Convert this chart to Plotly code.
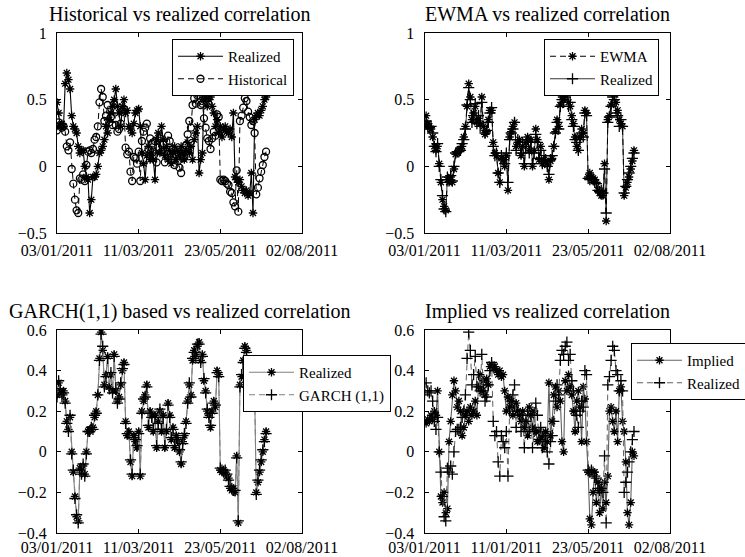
import plotly.graph_objects as go

# ---------------- data ----------------
x_ticks = [0, 50, 100, 150]
tick_labels_a = ["03/01/2011", "11/03/2011", "23/05/2011", "02/08/2011"]
tick_labels_b = ["03/01/2011", "11/01/2011", "23/05/2011", "02/08/2011"]

realized = [0.28,0.34,0.30,0.29,0.30,0.25,0.15,0.11,0.17,0.00,
            -0.10,-0.22,-0.32,-0.34,-0.08,-0.10,-0.07,-0.11,0.00,0.10,
            0.11,0.11,0.12,0.17,0.20,0.28,0.46,0.59,0.50,0.33,
            0.38,0.47,0.32,0.38,0.30,0.48,0.30,0.25,0.27,0.33,
            0.40,0.44,0.15,0.08,0.10,-0.05,-0.12,0.08,0.05,0.02,
            0.10,-0.12,0.20,0.25,0.28,0.33,0.12,0.20,0.18,0.10,
            0.18,0.02,0.15,0.20,0.10,0.18,0.02,0.10,0.24,0.18,
            0.06,0.12,0.02,0.08,0.05,0.00,-0.06,0.05,0.08,0.15,
            0.25,0.33,0.28,0.45,0.50,0.48,0.52,0.54,0.45,0.48,
            0.35,0.30,0.20,0.18,0.12,0.20,0.25,0.22,0.40,0.38,
            -0.09,-0.10,-0.09,-0.10,-0.12,-0.13,-0.18,-0.19,-0.18,-0.20,
            -0.02,-0.35,0.33,0.37,0.45,0.52,0.50,0.40,0.38,0.30,
            0.35,0.30,-0.20,-0.15,-0.10,-0.05,0.00,0.06,0.10]

realized_s1 = [0.48,0.40,0.30,0.32,0.30,0.62,0.70,0.65,0.58,0.38,
               0.30,0.28,0.25,0.15,0.10,0.12,0.12,0.00,-0.08,-0.10,
               -0.35,-0.25,-0.08,-0.08,-0.06,0.00,0.10,0.12,0.15,0.20,
               0.30,0.25,0.35,0.40,0.45,0.50,0.58,0.45,0.40,0.30,
               0.45,0.50,0.40,0.42,0.30,0.28,0.25,0.32,0.40,0.42,
               0.43,0.30,0.10,0.02,-0.10,0.08,0.15,0.05,0.10,0.05,
               -0.10,0.20,0.25,0.10,0.30,0.20,0.08,0.15,0.05,0.12,
               0.02,0.10,0.15,0.05,0.12,0.08,0.15,0.10,0.05,0.12,
               0.18,0.10,0.15,0.05,0.20,0.25,0.30,-0.05,0.05,0.10,
               0.50,0.52,0.45,0.50,0.52,0.45,0.40,0.30,0.35,0.25,
               0.30,0.22,0.28,0.30,0.26,0.25,0.28,0.22,0.40,-0.08,
               -0.10,-0.12,-0.10,-0.15,-0.18,-0.20,-0.18,-0.22,-0.20,-0.05,
               -0.35,0.35,0.38,0.40,0.38,0.42,0.45,0.50,0.52]

historical = [0.27,0.33,0.31,0.29,0.30,0.26,0.15,0.12,0.18,-0.02,
              -0.13,-0.25,-0.33,-0.35,-0.09,-0.10,-0.06,-0.11,0.01,0.11,
              0.12,0.10,0.13,0.20,0.22,0.30,0.48,0.58,0.52,0.34,
              0.38,0.46,0.33,0.37,0.31,0.47,0.31,0.26,0.28,0.32,
              0.41,0.43,0.14,0.09,0.11,-0.04,-0.11,0.07,0.06,0.02,
              0.11,-0.11,0.19,0.26,0.29,0.32,0.13,0.21,0.17,0.11,
              0.19,0.03,0.14,0.21,0.11,0.17,0.03,0.11,0.23,0.19,
              0.05,0.13,0.01,0.09,0.04,-0.01,-0.05,0.06,0.07,0.16,
              0.24,0.34,0.29,0.46,0.51,0.47,0.53,0.53,0.46,0.47,
              0.36,0.29,0.21,0.19,0.13,0.21,0.26,0.23,0.39,0.37,
              -0.10,-0.11,-0.10,-0.11,-0.13,-0.14,-0.19,-0.20,-0.27,-0.30,
              -0.03,-0.34,0.34,0.38,0.44,0.51,0.49,0.41,0.37,0.31,
              0.34,0.25,-0.21,-0.16,-0.09,-0.04,0.01,0.07,0.11]

ewma = [0.30,0.38,0.32,0.30,0.28,0.22,0.15,0.12,0.15,0.02,
        -0.12,-0.25,-0.30,-0.33,-0.10,-0.12,-0.08,-0.12,-0.02,0.09,
        0.10,0.12,0.13,0.15,0.22,0.30,0.45,0.62,0.52,0.35,
        0.40,0.45,0.33,0.36,0.32,0.52,0.30,0.24,0.26,0.35,
        0.42,0.42,0.18,0.10,0.08,-0.05,-0.12,0.06,0.05,0.00,
        0.08,-0.18,0.22,0.26,0.30,0.33,0.15,0.18,0.20,0.08,
        0.15,0.00,0.18,0.22,0.12,0.20,0.00,0.12,0.28,0.20,
        0.05,0.15,0.02,0.05,0.04,0.01,-0.10,0.04,0.06,0.15,
        0.26,0.35,0.30,0.46,0.52,0.50,0.55,0.58,0.48,0.45,
        0.38,0.32,0.22,0.15,0.12,0.22,0.28,0.25,0.42,0.40,
        -0.08,-0.05,-0.08,-0.09,-0.10,-0.12,-0.18,-0.20,-0.22,-0.22,
        0.02,-0.41,0.35,0.38,0.46,0.55,0.54,0.48,0.42,0.35,
        0.32,0.30,-0.22,-0.16,-0.12,-0.08,-0.02,0.04,0.12]

garch = [0.27,0.35,0.31,0.28,0.29,0.24,0.14,0.10,0.18,-0.01,
         -0.09,-0.23,-0.31,-0.35,-0.09,-0.11,-0.06,-0.12,-0.01,0.10,
         0.10,0.12,0.11,0.18,0.19,0.28,0.45,0.58,0.52,0.32,
         0.37,0.46,0.31,0.39,0.29,0.47,0.31,0.24,0.26,0.34,
         0.41,0.43,0.14,0.09,0.09,-0.04,-0.11,0.07,0.06,0.03,
         0.09,-0.11,0.19,0.26,0.27,0.32,0.13,0.19,0.17,0.11,
         0.17,0.03,0.14,0.21,0.11,0.17,0.03,0.11,0.23,0.17,
         0.07,0.11,0.03,0.07,0.06,0.01,-0.05,0.04,0.09,0.14,
         0.24,0.34,0.27,0.46,0.49,0.47,0.53,0.53,0.44,0.47,
         0.36,0.29,0.21,0.17,0.13,0.19,0.24,0.23,0.39,0.37,
         -0.08,-0.09,-0.10,-0.09,-0.11,-0.14,-0.17,-0.18,-0.19,-0.19,
         -0.03,-0.34,0.32,0.38,0.44,0.51,0.49,0.41,0.37,0.29,
         0.34,0.29,-0.21,-0.14,-0.09,-0.04,0.01,0.05,0.09]

implied = [0.15,0.14,0.16,0.15,0.18,0.16,0.20,0.18,0.30,0.00,
           -0.22,-0.25,-0.20,-0.30,-0.28,0.05,0.15,0.28,0.35,0.30,
           0.22,0.25,0.20,0.08,0.12,0.18,0.20,0.15,0.22,0.18,
           0.20,0.25,0.18,0.32,0.38,0.30,0.35,0.28,0.36,0.33,
           0.42,0.43,0.41,0.42,0.40,0.38,0.40,0.37,0.38,0.30,
           0.20,0.27,0.22,0.25,0.18,0.22,0.24,0.20,0.18,0.15,
           0.20,0.12,0.15,0.08,0.22,0.18,0.12,0.20,0.10,0.05,
           0.10,0.06,0.08,0.02,0.10,0.05,0.34,0.08,0.15,0.28,
           0.32,0.22,0.30,0.25,0.05,0.00,0.35,0.30,0.38,0.32,
           0.28,0.20,0.10,0.25,0.30,0.22,0.05,0.32,0.26,0.05,
           -0.10,-0.33,-0.36,-0.20,-0.10,-0.25,-0.15,-0.30,-0.18,-0.28,
           -0.15,-0.25,-0.12,0.20,0.22,0.15,0.10,0.20,0.05,0.30,
           0.32,0.15,0.10,-0.05,-0.30,-0.36,-0.25,0.00,-0.02]

titles = ["Historical vs realized correlation", "EWMA vs realized correlation",
          "GARCH(1,1) based vs realized correlation", "Implied vs realized correlation"]

# ---------------- figure ----------------
W, H = 745, 557
FONT = "Liberation Serif, Times New Roman, serif"
x = list(range(len(realized)))

fig = go.Figure()


def add(xa, ya, y, name, symbol, dash, legend, lc, lw, msize):
    fig.add_trace(go.Scatter(
        x=x, y=y, xaxis=xa, yaxis=ya, name=name, mode="lines+markers",
        line=dict(color=lc, width=lw, dash=dash),
        marker=dict(symbol=symbol, size=msize, color="black",
                    line=dict(color="black", width=1.3)),
        legend=legend, cliponaxis=True))


DASH = "6px,4px"
add("x", "y", realized_s1, "Realized", "asterisk-open", "solid", "legend", "black", 1.1, 7)
add("x", "y", historical, "Historical", "circle-open", DASH, "legend", "black", 1, 7)
add("x2", "y2", ewma, "EWMA", "asterisk-open", DASH, "legend2", "black", 1, 7)
add("x2", "y2", realized, "Realized", "cross-thin-open", "solid", "legend2", "black", 0.8, 8)
add("x3", "y3", realized, "Realized", "asterisk-open", "solid", "legend3", "#808080", 1.1, 7)
add("x3", "y3", garch, "GARCH (1,1)", "cross-thin-open", DASH, "legend3", "#808080", 1, 8)
add("x4", "y4", implied, "Implied", "asterisk-open", "solid", "legend4", "#606060", 1.1, 7)
add("x4", "y4", realized, "Realized", "cross-thin-open", DASH, "legend4", "#606060", 1, 8)

col_dom = [[57 / W, 302 / W], [424.5 / W, 670 / W]]
row_dom = [[1 - 233 / H, 1 - 33 / H], [1 - 533 / H, 1 - 330 / H]]

ax_common = dict(showline=True, linecolor="black", linewidth=1, mirror="allticks",
                 ticks="inside", ticklen=4, tickcolor="black", showgrid=False,
                 zeroline=False, tickfont=dict(family=FONT, size=16, color="black"))

layout = dict(width=W, height=H,
              margin=dict(l=0, r=0, t=0, b=0, autoexpand=False),
              paper_bgcolor="white", plot_bgcolor="white",
              font=dict(family=FONT, size=16, color="black"))

specs = [("", "", 0, 0, tick_labels_a, [-0.5, 1], 0.5, 3),
         ("2", "2", 1, 0, tick_labels_a, [-0.5, 1], 0.5, 3),
         ("3", "3", 0, 1, tick_labels_a, [-0.4, 0.6], 0.2, 0),
         ("4", "4", 1, 1, tick_labels_b, [-0.4, 0.6], 0.2, 0)]
for xs, ys, c, r, labels, yr, dt, so in specs:
    layout["xaxis" + xs] = dict(ax_common, domain=col_dom[c], anchor="y" + ys,
                                range=[0, 150], tickmode="array", tickvals=x_ticks,
                                ticktext=labels, ticklabelstandoff=so)
    layout["yaxis" + ys] = dict(ax_common, domain=row_dom[r], anchor="x" + xs,
                                range=yr, dtick=dt, tick0=0, ticklabelstandoff=6)

leg_common = dict(bgcolor="white", bordercolor="black", borderwidth=1,
                  font=dict(family=FONT, size=15, color="black"),
                  xanchor="left", yanchor="top", tracegroupgap=0, itemwidth=45,
                  traceorder="normal")
layout["legend"] = dict(leg_common, x=172 / W, y=1 - 39 / H)
layout["legend2"] = dict(leg_common, x=544 / W, y=1 - 39 / H)
layout["legend3"] = dict(leg_common, x=243 / W, y=1 - 355 / H)
layout["legend4"] = dict(leg_common, x=631 / W, y=1 - 343 / H)

fig.update_layout(**layout)

title_pos = [((57 + 302) / 2, 14), ((424.5 + 670) / 2, 14),
             ((57 + 302) / 2, 311), ((424.5 + 670) / 2, 311)]
for t, (px, py) in zip(titles, title_pos):
    fig.add_annotation(text=t, x=px / W, y=1 - py / H, xref="paper", yref="paper",
                       showarrow=False, xanchor="center", yanchor="middle",
                       font=dict(family=FONT, size=20, color="black"))

fig.write_html("out.html", config={"displayModeBar": False},
               post_script="document.body.style.margin='0';document.body.style.overflow='hidden';")
